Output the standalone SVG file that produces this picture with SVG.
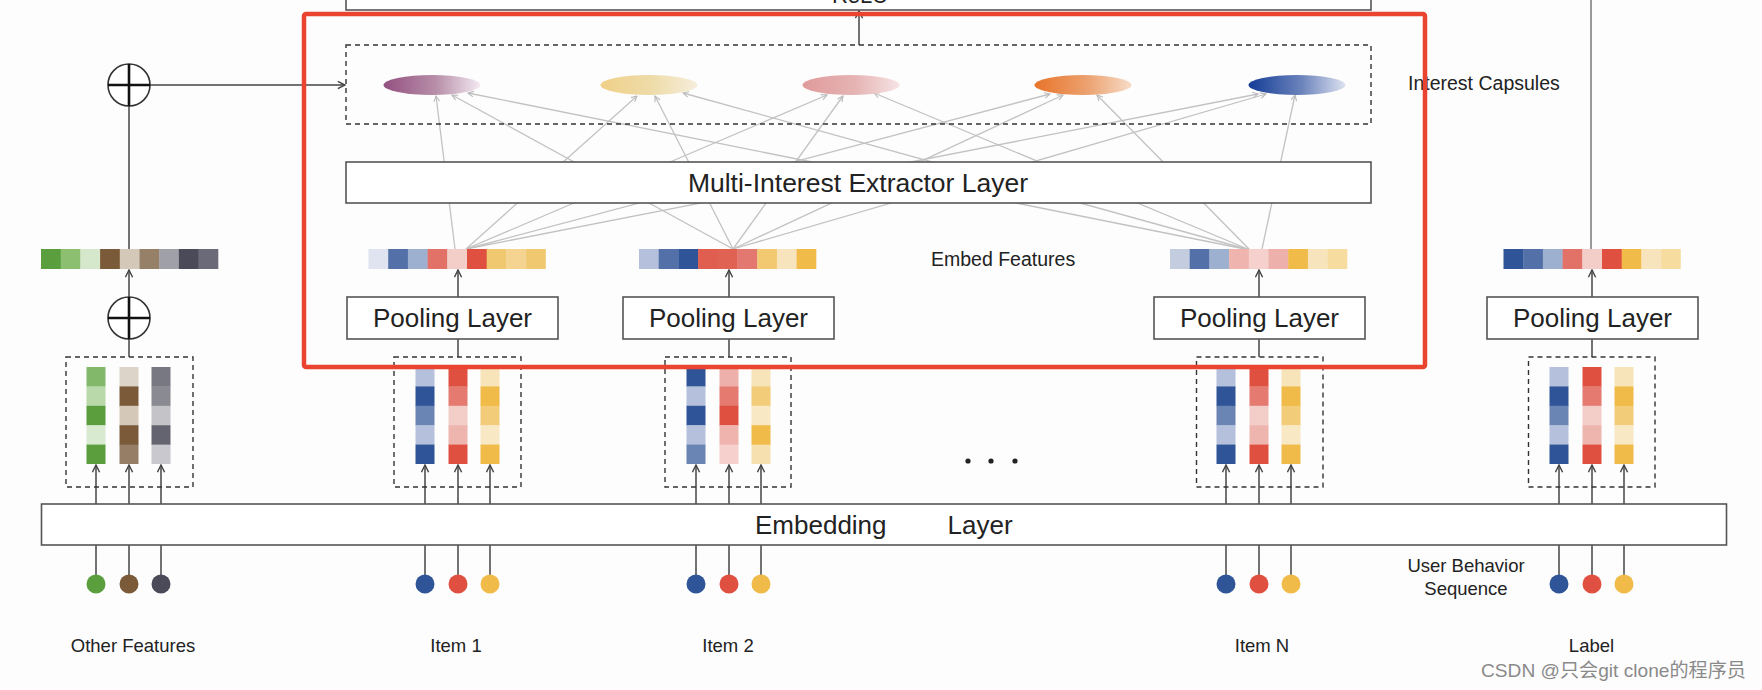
<svg xmlns="http://www.w3.org/2000/svg" width="1762" height="690" viewBox="0 0 1762 690">
<style>
.box{fill:#fff;stroke:#555;stroke-width:1.6}
.dash{fill:none;stroke:#333;stroke-width:1.4;stroke-dasharray:5 4}
.ln{stroke:#444;stroke-width:1.5;fill:none}
.arr{stroke:#444;stroke-width:1.5;fill:none;marker-end:url(#ah)}
.cap{stroke:#c2c2c2;stroke-width:1.3;fill:none;marker-end:url(#ahg)}
.t{font-family:"Liberation Sans",Arial,sans-serif;fill:#222}
.big{font-size:26px}
.mid{font-size:19.5px}
.sm{font-size:18.5px}
.plus{stroke:#111;stroke-width:2.6}
.circ{fill:#fff;stroke:#333;stroke-width:1.6}
</style>
<defs>
<marker id="ah" viewBox="0 0 10 10" refX="9" refY="5" markerWidth="9" markerHeight="9" markerUnits="userSpaceOnUse" orient="auto"><path d="M1,1 L9,5 L1,9" fill="none" stroke="#444" stroke-width="1.6"/></marker>
<marker id="ahg" viewBox="0 0 10 10" refX="9" refY="5" markerWidth="7" markerHeight="7" markerUnits="userSpaceOnUse" orient="auto"><path d="M1,1 L9,5 L1,9" fill="none" stroke="#bbb" stroke-width="1.6"/></marker>
<linearGradient id="g1"><stop offset="0" stop-color="#935080"/><stop offset="0.55" stop-color="#b890aa"/><stop offset="1" stop-color="#f4eaf2"/></linearGradient>
<linearGradient id="g2"><stop offset="0" stop-color="#f0d088"/><stop offset="0.55" stop-color="#eedcaa"/><stop offset="1" stop-color="#f6eedc"/></linearGradient>
<linearGradient id="g3"><stop offset="0" stop-color="#e09a9a"/><stop offset="0.55" stop-color="#e6b4b4"/><stop offset="1" stop-color="#f6e4e4"/></linearGradient>
<linearGradient id="g4"><stop offset="0" stop-color="#e8742a"/><stop offset="0.55" stop-color="#eca270"/><stop offset="1" stop-color="#f6dcc8"/></linearGradient>
<linearGradient id="g5"><stop offset="0" stop-color="#143c96"/><stop offset="0.55" stop-color="#6c84bc"/><stop offset="1" stop-color="#dde2f0"/></linearGradient>
<g id="colsA">
<rect x="0" y="0" width="19" height="19.8" fill="#b4c0dc"/><rect x="0" y="19.4" width="19" height="19.8" fill="#2f5598"/><rect x="0" y="38.8" width="19" height="19.8" fill="#6a84b4"/><rect x="0" y="58.2" width="19" height="19.8" fill="#b4c0dc"/><rect x="0" y="77.6" width="19" height="19.4" fill="#2f5598"/>
<rect x="33" y="0" width="19" height="19.8" fill="#e05040"/><rect x="33" y="19.4" width="19" height="19.8" fill="#e47a70"/><rect x="33" y="38.8" width="19" height="19.8" fill="#f3cdc8"/><rect x="33" y="58.2" width="19" height="19.8" fill="#eeb4ae"/><rect x="33" y="77.6" width="19" height="19.4" fill="#e05040"/>
<rect x="65" y="0" width="19" height="19.8" fill="#f7e4b8"/><rect x="65" y="19.4" width="19" height="19.8" fill="#f0bb48"/><rect x="65" y="38.8" width="19" height="19.8" fill="#f2cc78"/><rect x="65" y="58.2" width="19" height="19.8" fill="#f8e8c4"/><rect x="65" y="77.6" width="19" height="19.4" fill="#f0bb48"/>
</g>
</defs>
<rect x="0" y="0" width="1762" height="690" fill="#fdfdfd"/>

<g id="connectors">
<!-- item embeddings to capsules -->
<line class="cap" x1="455" y1="249" x2="436" y2="96"/>
<line class="cap" x1="466" y1="249" x2="637" y2="96"/>
<line class="cap" x1="466" y1="249" x2="827" y2="95"/>
<line class="cap" x1="466" y1="249" x2="1050" y2="94"/>
<line class="cap" x1="466" y1="249" x2="1258" y2="94"/>
<line class="cap" x1="733" y1="249" x2="452" y2="95"/>
<line class="cap" x1="733" y1="249" x2="655" y2="96"/>
<line class="cap" x1="733" y1="249" x2="843" y2="96"/>
<line class="cap" x1="733" y1="249" x2="1063" y2="95"/>
<line class="cap" x1="733" y1="249" x2="1266" y2="94"/>
<line class="cap" x1="1250" y1="250" x2="468" y2="93"/>
<line class="cap" x1="1250" y1="250" x2="683" y2="93"/>
<line class="cap" x1="1250" y1="250" x2="874" y2="93"/>
<line class="cap" x1="1250" y1="250" x2="1097" y2="95"/>
<line class="cap" x1="1262" y1="249" x2="1295" y2="95"/>
<!-- capsules to top -->
<line class="arr" x1="859" y1="45" x2="859" y2="11"/>
<!-- concat to capsules -->
<line class="arr" x1="150" y1="85" x2="345" y2="85"/>
<line class="ln" x1="129" y1="106" x2="129" y2="249"/>
<line class="arr" x1="129" y1="297" x2="129" y2="270"/>
<line class="ln" x1="129" y1="339" x2="129" y2="357"/>
<!-- label line up -->
<line x1="1591" y1="0" x2="1591" y2="249" stroke="#999" stroke-width="2"/>
<!-- pooling to vectors -->
<line class="arr" x1="458" y1="297" x2="458" y2="270"/>
<line class="ln" x1="458" y1="339" x2="458" y2="357"/>
<line class="arr" x1="729" y1="297" x2="729" y2="270"/>
<line class="ln" x1="729" y1="339" x2="729" y2="357"/>
<line class="arr" x1="1259" y1="297" x2="1259" y2="270"/>
<line class="ln" x1="1259" y1="339" x2="1259" y2="357"/>
<line class="arr" x1="1592" y1="297" x2="1592" y2="270"/>
<line class="ln" x1="1592" y1="339" x2="1592" y2="357"/>
<!-- embedding to columns -->
<line class="arr" x1="96" y1="504" x2="96" y2="465"/><line class="arr" x1="129" y1="504" x2="129" y2="465"/><line class="arr" x1="161" y1="504" x2="161" y2="465"/>
<line class="arr" x1="425" y1="504" x2="425" y2="465"/><line class="arr" x1="458" y1="504" x2="458" y2="465"/><line class="arr" x1="490" y1="504" x2="490" y2="465"/>
<line class="arr" x1="696" y1="504" x2="696" y2="465"/><line class="arr" x1="729" y1="504" x2="729" y2="465"/><line class="arr" x1="761" y1="504" x2="761" y2="465"/>
<line class="arr" x1="1226" y1="504" x2="1226" y2="465"/><line class="arr" x1="1259" y1="504" x2="1259" y2="465"/><line class="arr" x1="1291" y1="504" x2="1291" y2="465"/>
<line class="arr" x1="1559" y1="504" x2="1559" y2="465"/><line class="arr" x1="1592" y1="504" x2="1592" y2="465"/><line class="arr" x1="1624" y1="504" x2="1624" y2="465"/>
<!-- inputs to embedding -->
<line class="ln" x1="96" y1="575" x2="96" y2="545"/><line class="ln" x1="129" y1="575" x2="129" y2="545"/><line class="ln" x1="161" y1="575" x2="161" y2="545"/>
<line class="ln" x1="425" y1="575" x2="425" y2="545"/><line class="ln" x1="458" y1="575" x2="458" y2="545"/><line class="ln" x1="490" y1="575" x2="490" y2="545"/>
<line class="ln" x1="696" y1="575" x2="696" y2="545"/><line class="ln" x1="729" y1="575" x2="729" y2="545"/><line class="ln" x1="761" y1="575" x2="761" y2="545"/>
<line class="ln" x1="1226" y1="575" x2="1226" y2="545"/><line class="ln" x1="1259" y1="575" x2="1259" y2="545"/><line class="ln" x1="1291" y1="575" x2="1291" y2="545"/>
<line class="ln" x1="1559" y1="575" x2="1559" y2="545"/><line class="ln" x1="1592" y1="575" x2="1592" y2="545"/><line class="ln" x1="1624" y1="575" x2="1624" y2="545"/>
</g>

<g id="top-layer">
<rect class="box" x="346" y="-20" width="1025" height="30"/>
<text class="t" x="860" y="3" font-size="22" text-anchor="middle" fill="#888">ReLU</text>
</g>

<g id="interest-capsules">
<rect class="dash" x="346" y="45" width="1025" height="79"/>
<ellipse cx="432" cy="85" rx="48.5" ry="10" fill="url(#g1)"/>
<ellipse cx="649" cy="85" rx="48.5" ry="10" fill="url(#g2)"/>
<ellipse cx="851" cy="85" rx="48.5" ry="10" fill="url(#g3)"/>
<ellipse cx="1083" cy="85" rx="48.5" ry="10" fill="url(#g4)"/>
<ellipse cx="1297" cy="85" rx="48.5" ry="10" fill="url(#g5)"/>
<text class="t mid" x="1408" y="90" fill="#333">Interest Capsules</text>
</g>

<g id="multi-interest-extractor">
<rect class="box" x="346" y="162" width="1025" height="41"/>
<text class="t" x="858" y="192" font-size="26.5" text-anchor="middle">Multi-Interest Extractor Layer</text>
</g>

<g id="concat-top">
<circle class="circ" cx="129" cy="85" r="21"/>
<line class="plus" x1="129" y1="64" x2="129" y2="106"/><line class="plus" x1="108" y1="85" x2="150" y2="85"/>
</g>
<g id="concat-bottom">
<circle class="circ" cx="129" cy="318" r="21"/>
<line class="plus" x1="129" y1="297" x2="129" y2="339"/><line class="plus" x1="108" y1="318" x2="150" y2="318"/>
</g>

<g id="other-embed">
<rect x="41" y="249" width="20" height="20" fill="#5a9e3e"/><rect x="60.7" y="249" width="20" height="20" fill="#8cc070"/><rect x="80.4" y="249" width="20" height="20" fill="#d5e8cc"/><rect x="100.1" y="249" width="20" height="20" fill="#7a5a38"/><rect x="119.8" y="249" width="20" height="20" fill="#d4c8b8"/><rect x="139.5" y="249" width="20" height="20" fill="#978068"/><rect x="159.2" y="249" width="20" height="20" fill="#a0a0a8"/><rect x="178.9" y="249" width="20" height="20" fill="#4a4a58"/><rect x="198.6" y="249" width="19.7" height="20" fill="#6a6a78"/>
</g>
<g id="item1-embed">
<rect x="368.5" y="249" width="20" height="20" fill="#dfe4f0"/><rect x="388.2" y="249" width="20" height="20" fill="#5470a8"/><rect x="407.9" y="249" width="20" height="20" fill="#9eb0d0"/><rect x="427.6" y="249" width="20" height="20" fill="#e27268"/><rect x="447.3" y="249" width="20" height="20" fill="#f3cdc8"/><rect x="467" y="249" width="20" height="20" fill="#e05040"/><rect x="486.7" y="249" width="20" height="20" fill="#f0c870"/><rect x="506.4" y="249" width="20" height="20" fill="#f4d490"/><rect x="526.1" y="249" width="19.7" height="20" fill="#f0c870"/>
</g>
<g id="item2-embed">
<rect x="639" y="249" width="20" height="20" fill="#b4c0dc"/><rect x="658.7" y="249" width="20" height="20" fill="#5470a8"/><rect x="678.4" y="249" width="20" height="20" fill="#2f5598"/><rect x="698.1" y="249" width="20" height="20" fill="#e05e50"/><rect x="717.8" y="249" width="20" height="20" fill="#e06252"/><rect x="737.5" y="249" width="20" height="20" fill="#e27870"/><rect x="757.2" y="249" width="20" height="20" fill="#f2c870"/><rect x="776.9" y="249" width="20" height="20" fill="#f8e4bc"/><rect x="796.6" y="249" width="19.7" height="20" fill="#f0bb48"/>
</g>
<g id="itemN-embed">
<rect x="1170" y="249" width="20" height="20" fill="#c4cce0"/><rect x="1189.7" y="249" width="20" height="20" fill="#5470a8"/><rect x="1209.4" y="249" width="20" height="20" fill="#9eb0d0"/><rect x="1229.1" y="249" width="20" height="20" fill="#f0b4ae"/><rect x="1248.8" y="249" width="20" height="20" fill="#f6d0cc"/><rect x="1268.5" y="249" width="20" height="20" fill="#eeb0aa"/><rect x="1288.2" y="249" width="20" height="20" fill="#f0bb48"/><rect x="1307.9" y="249" width="20" height="20" fill="#f8e4bc"/><rect x="1327.6" y="249" width="19.7" height="20" fill="#f7dca0"/>
</g>
<g id="label-embed">
<rect x="1503.5" y="249" width="20" height="20" fill="#2f5598"/><rect x="1523.2" y="249" width="20" height="20" fill="#5470a8"/><rect x="1542.9" y="249" width="20" height="20" fill="#9eb0d0"/><rect x="1562.6" y="249" width="20" height="20" fill="#e27268"/><rect x="1582.3" y="249" width="20" height="20" fill="#f3cdc8"/><rect x="1602" y="249" width="20" height="20" fill="#e05040"/><rect x="1621.7" y="249" width="20" height="20" fill="#f0bb48"/><rect x="1641.4" y="249" width="20" height="20" fill="#f8e4bc"/><rect x="1661.1" y="249" width="19.7" height="20" fill="#f7dca0"/>
<text class="t mid" x="931" y="266" fill="#333">Embed Features</text>
</g>

<g id="pooling-item1"><rect class="box" x="347" y="297" width="211" height="42"/><text class="t big" x="452.5" y="327" text-anchor="middle">Pooling Layer</text></g>
<g id="pooling-item2"><rect class="box" x="623" y="297" width="211" height="42"/><text class="t big" x="728.5" y="327" text-anchor="middle">Pooling Layer</text></g>
<g id="pooling-itemN"><rect class="box" x="1154" y="297" width="211" height="42"/><text class="t big" x="1259.5" y="327" text-anchor="middle">Pooling Layer</text></g>
<g id="pooling-label"><rect class="box" x="1487" y="297" width="211" height="42"/><text class="t big" x="1592.5" y="327" text-anchor="middle">Pooling Layer</text></g>

<g id="other-columns">
<rect class="dash" x="66" y="357" width="127" height="130"/>
<rect x="86.5" y="367" width="19" height="19.8" fill="#82b86a"/><rect x="86.5" y="386.4" width="19" height="19.8" fill="#b9d9aa"/><rect x="86.5" y="405.8" width="19" height="19.8" fill="#5a9e3e"/><rect x="86.5" y="425.2" width="19" height="19.8" fill="#d8eacf"/><rect x="86.5" y="444.6" width="19" height="19.4" fill="#5a9e3e"/>
<rect x="119.5" y="367" width="19" height="19.8" fill="#dcd4c8"/><rect x="119.5" y="386.4" width="19" height="19.8" fill="#7a5a38"/><rect x="119.5" y="405.8" width="19" height="19.8" fill="#d4c8b8"/><rect x="119.5" y="425.2" width="19" height="19.8" fill="#7a5a38"/><rect x="119.5" y="444.6" width="19" height="19.4" fill="#967e66"/>
<rect x="151.5" y="367" width="19" height="19.8" fill="#787882"/><rect x="151.5" y="386.4" width="19" height="19.8" fill="#8a8a92"/><rect x="151.5" y="405.8" width="19" height="19.8" fill="#c4c4c8"/><rect x="151.5" y="425.2" width="19" height="19.8" fill="#646470"/><rect x="151.5" y="444.6" width="19" height="19.4" fill="#c8c8ce"/>
</g>
<g id="item1-columns">
<rect class="dash" x="394" y="357" width="127" height="130"/>
<use href="#colsA" x="415.5" y="367"/>
</g>
<g id="item2-columns">
<rect class="dash" x="665" y="357" width="126" height="130"/>
<rect x="686.5" y="367" width="19" height="19.8" fill="#2f5598"/><rect x="686.5" y="386.4" width="19" height="19.8" fill="#b4c0dc"/><rect x="686.5" y="405.8" width="19" height="19.8" fill="#2f5598"/><rect x="686.5" y="425.2" width="19" height="19.8" fill="#b4c0dc"/><rect x="686.5" y="444.6" width="19" height="19.4" fill="#6a84b4"/>
<rect x="719.5" y="367" width="19" height="19.8" fill="#eeb0aa"/><rect x="719.5" y="386.4" width="19" height="19.8" fill="#e47a70"/><rect x="719.5" y="405.8" width="19" height="19.8" fill="#e05040"/><rect x="719.5" y="425.2" width="19" height="19.8" fill="#f0b4ae"/><rect x="719.5" y="444.6" width="19" height="19.4" fill="#f6d0cc"/>
<rect x="751.5" y="367" width="19" height="19.8" fill="#f7e4b8"/><rect x="751.5" y="386.4" width="19" height="19.8" fill="#f2cc78"/><rect x="751.5" y="405.8" width="19" height="19.8" fill="#f8e8c4"/><rect x="751.5" y="425.2" width="19" height="19.8" fill="#f0bb48"/><rect x="751.5" y="444.6" width="19" height="19.4" fill="#f7e0b0"/>
</g>
<g id="itemN-columns">
<rect class="dash" x="1196.5" y="357" width="126.5" height="130"/>
<use href="#colsA" x="1216.5" y="367"/>
</g>
<g id="label-columns">
<rect class="dash" x="1528.5" y="357" width="126.5" height="130"/>
<use href="#colsA" x="1549.5" y="367"/>
</g>
<g id="ellipsis">
<circle cx="968" cy="461" r="2.6" fill="#222"/><circle cx="991" cy="461" r="2.6" fill="#222"/><circle cx="1015" cy="461" r="2.6" fill="#222"/>
</g>

<g id="embedding-layer">
<rect class="box" x="41.5" y="504" width="1685" height="41"/>
<text class="t big" x="755" y="534">Embedding</text>
<text class="t big" x="947.5" y="534">Layer</text>
</g>

<g id="inputs">
<circle cx="96" cy="584" r="9.5" fill="#5a9e3e"/><circle cx="129" cy="584" r="9.5" fill="#7a5a38"/><circle cx="161" cy="584" r="9.5" fill="#4a4a58"/>
<circle cx="425" cy="584" r="9.5" fill="#2f5598"/><circle cx="458" cy="584" r="9.5" fill="#e05040"/><circle cx="490" cy="584" r="9.5" fill="#f0bb48"/>
<circle cx="696" cy="584" r="9.5" fill="#2f5598"/><circle cx="729" cy="584" r="9.5" fill="#e05040"/><circle cx="761" cy="584" r="9.5" fill="#f0bb48"/>
<circle cx="1226" cy="584" r="9.5" fill="#2f5598"/><circle cx="1259" cy="584" r="9.5" fill="#e05040"/><circle cx="1291" cy="584" r="9.5" fill="#f0bb48"/>
<circle cx="1559" cy="584" r="9.5" fill="#2f5598"/><circle cx="1592" cy="584" r="9.5" fill="#e05040"/><circle cx="1624" cy="584" r="9.5" fill="#f0bb48"/>
<text class="t sm" x="133" y="652" text-anchor="middle">Other Features</text>
<text class="t sm" x="456" y="652" text-anchor="middle">Item 1</text>
<text class="t sm" x="728" y="652" text-anchor="middle">Item 2</text>
<text class="t sm" x="1262" y="652" text-anchor="middle">Item N</text>
<text class="t sm" x="1591.5" y="652" text-anchor="middle">Label</text>
<text class="t sm" x="1466" y="572" text-anchor="middle">User Behavior</text>
<text class="t sm" x="1466" y="595" text-anchor="middle">Sequence</text>
</g>

<g id="highlight">
<rect x="304" y="14" width="1121" height="353" rx="2" fill="none" stroke="#ea4330" stroke-width="4.5"/>
</g>
<text x="1481" y="677" font-family="'Liberation Sans','Noto Sans CJK SC',sans-serif" font-size="19" fill="#8a8a8a" textLength="265" lengthAdjust="spacingAndGlyphs">CSDN @只会git clone的程序员</text>
</svg>
